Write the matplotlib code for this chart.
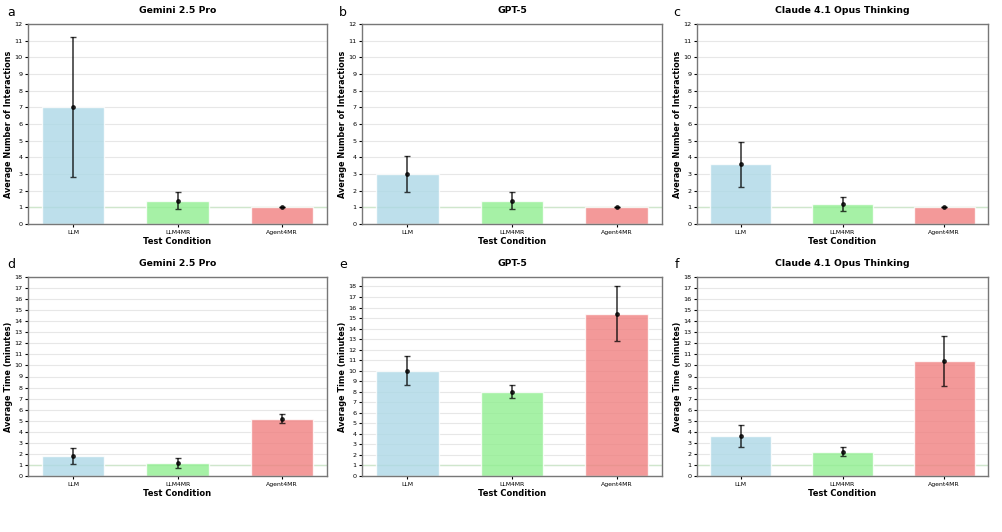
import numpy as np
import matplotlib
matplotlib.use('Agg')
import matplotlib.pyplot as plt

conditions = ['LLM', 'LLM4MR', 'Agent4MR']
models = ['Gemini 2.5 Pro', 'GPT-5', 'Claude 4.1 Opus Thinking']
bar_colors = ['lightblue', 'lightgreen', 'lightcoral']

# average number of interactions (mean, std)
inter_gemini = [7.0, 1.4, 1.0]
inter_gemini_err = [4.2, 0.5, 0.0]
inter_gpt = [3.0, 1.4, 1.0]
inter_gpt_err = [1.1, 0.5, 0.0]
inter_claude = [3.6, 1.2, 1.0]
inter_claude_err = [1.35, 0.4, 0.0]

# average time in minutes (mean, std)
time_gemini = [1.8, 1.15, 5.2]
time_gemini_err = [0.75, 0.45, 0.4]
time_gpt = [10.0, 8.0, 15.4]
time_gpt_err = [1.4, 0.6, 2.6]
time_claude = [3.6, 2.2, 10.4]
time_claude_err = [1.0, 0.4, 2.25]

fig = plt.figure(figsize=(10.03, 5.32), dpi=100)
W, H = 1003, 532


def add_ax(l, t, r, b):
    return fig.add_axes([l / W, 1 - b / H, (r - l) / W, (b - t) / H])


def draw_panel(ax, means, errs, title, ylabel, yticks, ylim=None):
    x = np.arange(len(conditions))
    ax.bar(x, means, width=0.6, color=bar_colors, alpha=0.8,
           edgecolor='white', linewidth=1, zorder=2)
    ax.errorbar(x, means, yerr=errs, fmt='o', color='black', ecolor='black',
                markersize=2.5, elinewidth=1.2, capsize=2, capthick=1,
                alpha=0.75, zorder=3)
    ax.axhline(y=1, color='#cfe6cc', linewidth=1, zorder=1)
    ax.set_xticks(x)
    ax.set_xticklabels(conditions, fontsize=4.4)
    ax.set_yticks(yticks)
    ax.tick_params(axis='y', labelsize=4.6, length=2, pad=2)
    ax.tick_params(axis='x', length=2, pad=2)
    if ylim is not None:
        ax.set_ylim(*ylim)
    ax.grid(True, axis='y', alpha=0.3, zorder=0)
    ax.set_axisbelow(True)
    ax.set_title(title, fontsize=6.7, fontweight='bold', pad=8)
    ax.set_ylabel(ylabel, fontsize=5.9, fontweight='bold', labelpad=1)
    ax.set_xlabel('Test Condition', fontsize=6.0, fontweight='bold', labelpad=2)
    for s in ax.spines.values():
        s.set_color('#777777')
        s.set_linewidth(1.0)


tops = [(28, 327), (362, 662), (697, 988)]
letter_x = [11, 343, 677]

inter_data = [(inter_gemini, inter_gemini_err), (inter_gpt, inter_gpt_err),
              (inter_claude, inter_claude_err)]
time_data = [(time_gemini, time_gemini_err), (time_gpt, time_gpt_err),
             (time_claude, time_claude_err)]
time_ylims = [(0, 18), (0, 18.9), (0, 18)]

for i, (l, r) in enumerate(tops):
    ax = add_ax(l, 24, r, 224)
    draw_panel(ax, inter_data[i][0], inter_data[i][1], models[i],
               'Average Number of Interactions', range(0, 13), (0, 12))
    fig.text(letter_x[i] / W, 1 - 13 / H, 'abc'[i], fontsize=9,
             ha='center', va='center')

for i, (l, r) in enumerate(tops):
    ax = add_ax(l, 277, r, 476)
    draw_panel(ax, time_data[i][0], time_data[i][1], models[i],
               'Average Time (minutes)', range(0, 19), time_ylims[i])
    fig.text(letter_x[i] / W, 1 - 265 / H, 'def'[i], fontsize=9,
             ha='center', va='center')

fig.savefig('out.png', dpi=100)
